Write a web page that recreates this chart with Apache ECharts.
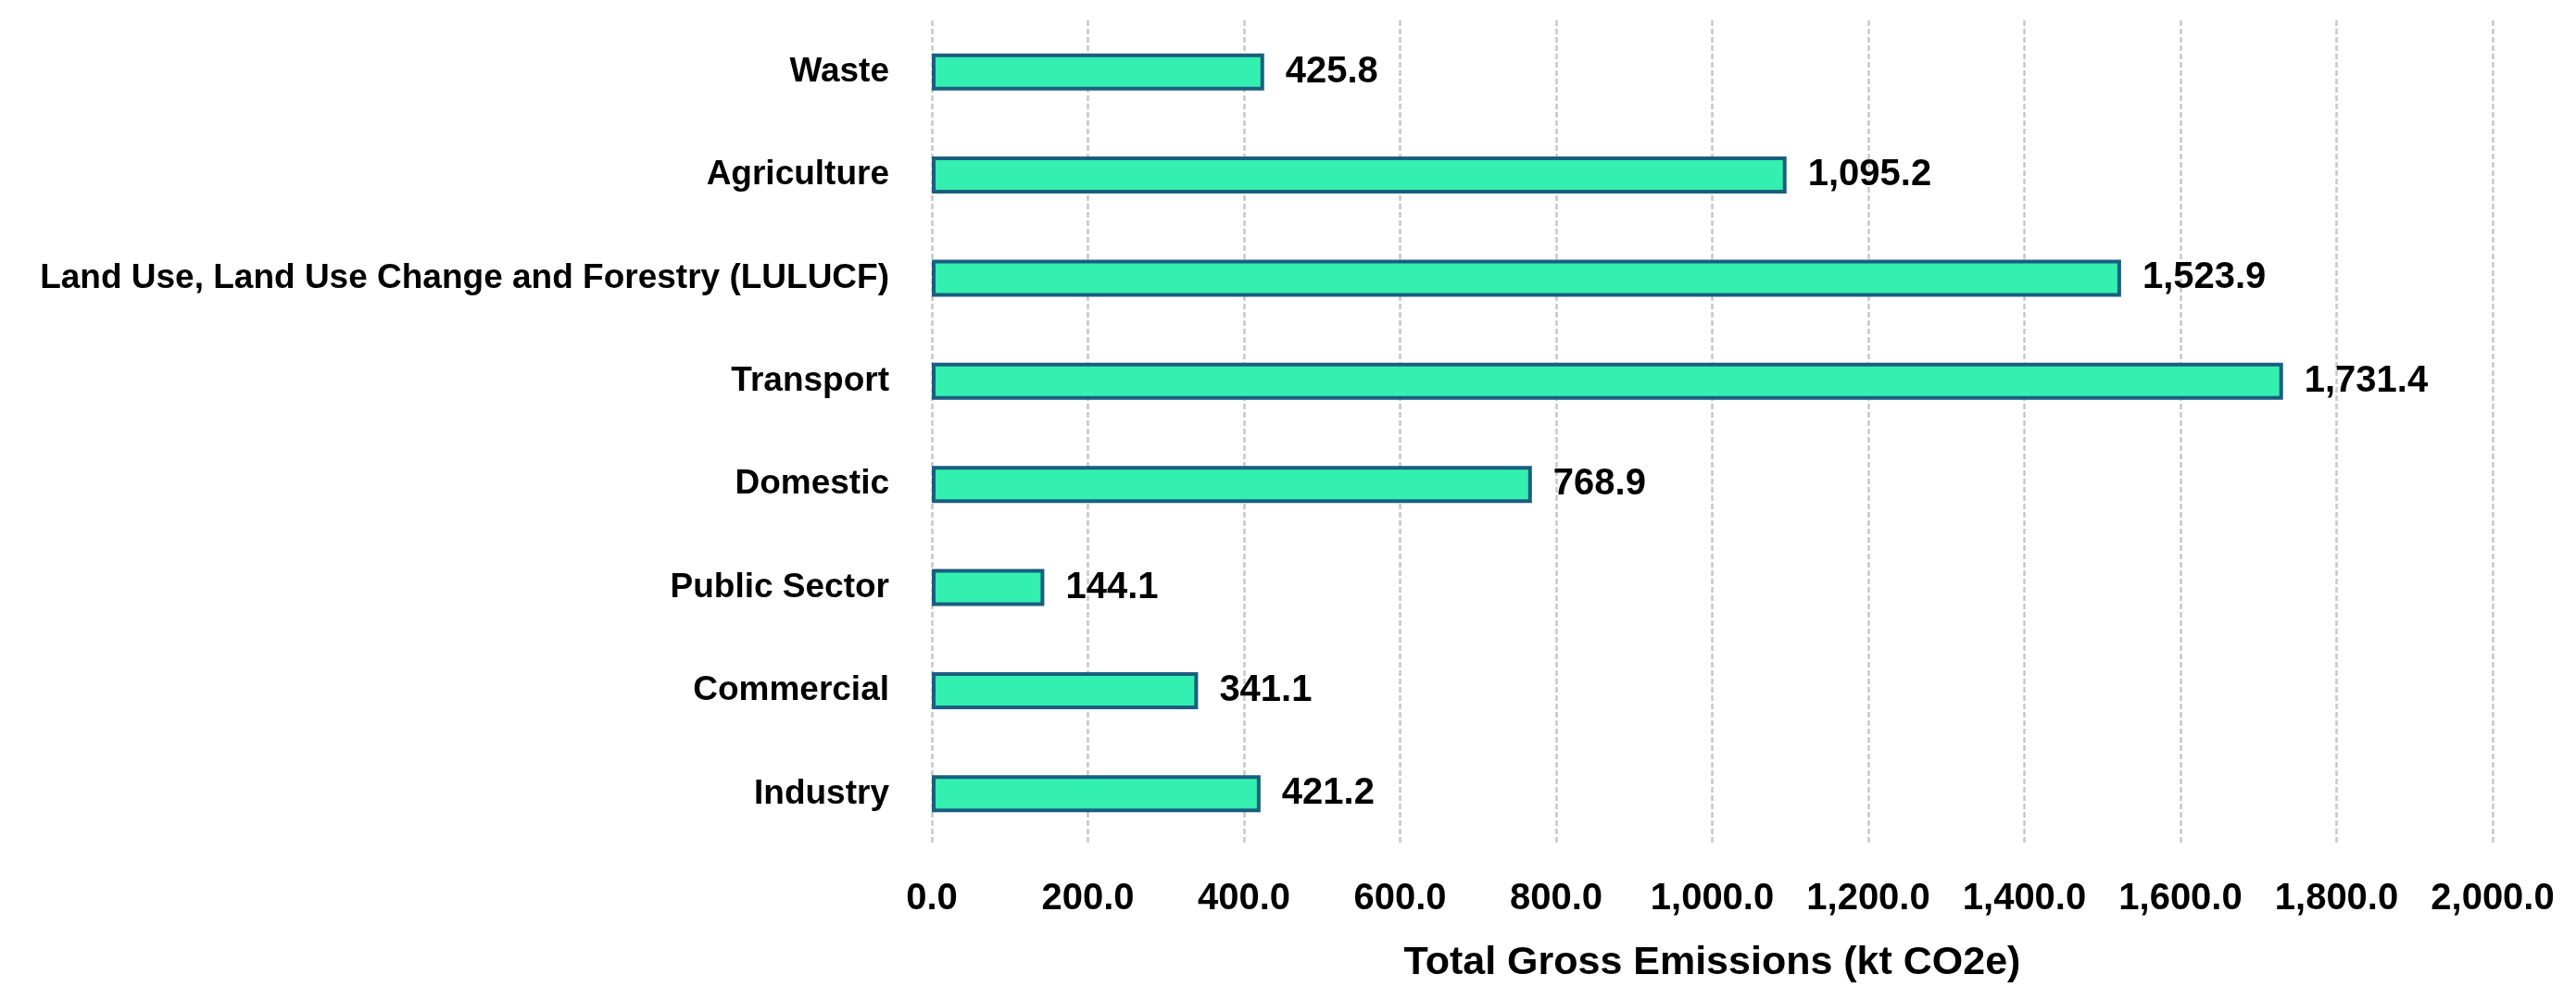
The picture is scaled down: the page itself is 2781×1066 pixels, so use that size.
<!DOCTYPE html>
<html>
<head>
<meta charset="utf-8">
<script src="https://cdn.jsdelivr.net/npm/echarts@6/dist/echarts.min.js"></script>
<style>
html,body{margin:0;padding:0;background:#fff;}
#chart{width:2781px;height:1066px;}
</style>
</head>
<body>
<div id="chart"></div>
<script>
const categories = ["Waste", "Agriculture", "Land Use, Land Use Change and Forestry (LULUCF)", "Transport", "Domestic", "Public Sector", "Commercial", "Industry"];
const emissions = [425.8, 1095.2, 1523.9, 1731.4, 768.9, 144.1, 341.1, 421.2];
const axisTitle = "Total Gross Emissions (kt CO2e)";
const xMin = 0, xMax = 2000, xStep = 200;

function fmt(v) {
  return Number(v).toLocaleString('en-US', {minimumFractionDigits: 1, maximumFractionDigits: 1});
}

const FONT = '"Liberation Sans", Arial, sans-serif';
const chart = echarts.init(document.getElementById('chart'));
chart.setOption({
  backgroundColor: '#ffffff',
  animation: false,
  grid: {left: 1006, right: 90, top: 22, bottom: 153, containLabel: false, outerBoundsMode: 'none'},
  xAxis: {
    type: 'value', min: xMin, max: xMax, interval: xStep,
    name: axisTitle, nameLocation: 'middle', nameGap: 106,
    nameTextStyle: {fontFamily: FONT, fontWeight: 'bold', fontSize: 43, color: '#000'},
    axisLine: {show: false}, axisTick: {show: false},
    axisLabel: {fontFamily: FONT, fontWeight: 'bold', fontSize: 40, color: '#000', margin: 38,
      formatter: v => fmt(v)},
    splitLine: {show: true, lineStyle: {color: '#c8c8c8', width: 2.5, type: [6, 3]}}
  },
  yAxis: {
    type: 'category', data: categories, inverse: true,
    axisLine: {show: false}, axisTick: {show: false},
    axisLabel: {fontFamily: FONT, fontWeight: 'bold', fontSize: 37, color: '#000', margin: 46},
    splitLine: {show: false}
  },
  series: [{
    type: 'bar', data: emissions, barWidth: 40,
    itemStyle: {color: '#33F0B0', borderColor: '#1A5E80', borderWidth: 4},
    label: {show: true, position: 'right', distance: 23, fontFamily: FONT, fontWeight: 'bold', fontSize: 40, color: '#000',
      formatter: p => fmt(p.value)}
  }]
});
</script>
</body>
</html>
